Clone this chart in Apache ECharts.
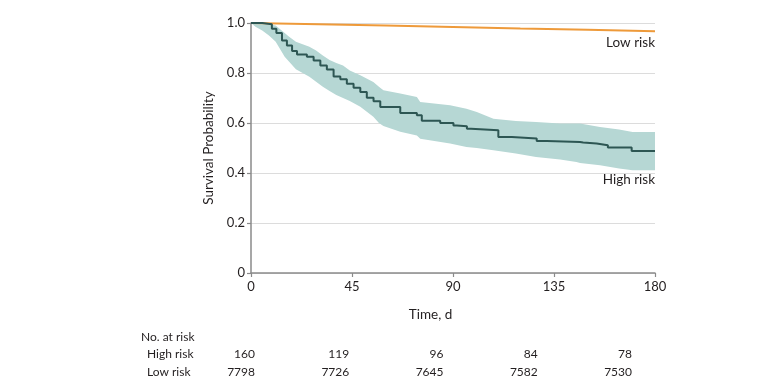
<!DOCTYPE html>
<html>
<head>
<meta charset="utf-8">
<script src="https://cdn.jsdelivr.net/npm/echarts@6/dist/echarts.min.js"></script>
<style>
html, body { margin: 0; padding: 0; background: #fff; }
#chart { width: 780px; height: 380px; }
</style>
</head>
<body>
<div id="chart"></div>
<script>
// Kaplan-Meier, high risk group (step points: day, survival)
const highT = [0, 5, 9.3, 11.3, 13.8, 16, 18.3, 20.5, 24.9, 27.9, 30.9, 33.8, 36.8, 39.8, 42.7, 45.7, 48.7, 51.6, 54.6, 57.6, 66.5, 73.9, 76.1, 84.3, 90.2, 91.7, 96.2, 98, 110.2, 116.2, 127.3, 131.8, 146.6, 148, 154, 159, 169.6, 180];
const highS = [1.0, 0.995, 0.977, 0.96, 0.93, 0.91, 0.888, 0.874, 0.865, 0.85, 0.83, 0.814, 0.786, 0.775, 0.757, 0.741, 0.724, 0.701, 0.687, 0.664, 0.64, 0.631, 0.609, 0.60, 0.59, 0.587, 0.577, 0.571, 0.544, 0.538, 0.528, 0.524, 0.522, 0.518, 0.511, 0.502, 0.488, 0.488];

// 95% CI band for the high risk group
const ciT  = [0, 2, 5, 8, 11, 13, 15, 17, 20, 23, 26, 29, 32, 35, 38, 41, 44, 48.7, 54.5, 57, 59, 66.5, 73.9, 75.4, 88.7, 96, 100.6, 108, 118, 127, 137.7, 145, 146.6, 155.5, 164, 170, 180];
const ciLo = [1.0, 0.985, 0.97, 0.95, 0.925, 0.895, 0.865, 0.845, 0.815, 0.80, 0.785, 0.765, 0.745, 0.728, 0.712, 0.70, 0.688, 0.665, 0.625, 0.60, 0.588, 0.565, 0.55, 0.537, 0.518, 0.504, 0.50, 0.491, 0.478, 0.464, 0.454, 0.444, 0.44, 0.431, 0.418, 0.411, 0.411];
const ciHi = [1.0, 1.0, 1.0, 0.995, 0.99, 0.975, 0.96, 0.945, 0.925, 0.915, 0.905, 0.89, 0.87, 0.852, 0.84, 0.83, 0.81, 0.791, 0.764, 0.745, 0.731, 0.718, 0.704, 0.684, 0.671, 0.657, 0.644, 0.617, 0.608, 0.604, 0.598, 0.598, 0.598, 0.584, 0.574, 0.564, 0.564];

// low risk group
const lowT = [0, 30, 60, 90, 120, 150, 180];
const lowS = [1.0, 0.995, 0.99, 0.984, 0.978, 0.973, 0.967];

// number at risk table
const riskDays = [0, 45, 90, 135, 180];
const riskHigh = [160, 119, 96, 84, 78];
const riskLow = [7798, 7726, 7645, 7582, 7530];

const FONT = 'Lato';
const TXT = '#231f20';

const pairs = (xs, ys) => xs.map((x, i) => [x, ys[i]]);

// CI band polygon: upper edge left->right, lower edge back
function bandItem(params, api) {
	const pts = [];
	for (let i = 0; i < ciT.length; i++) pts.push(api.coord([ciT[i], ciHi[i]]));
	for (let i = ciT.length - 1; i >= 0; i--) pts.push(api.coord([ciT[i], ciLo[i]]));
	return {
		type: 'polygon',
		shape: {points: pts},
		style: {fill: '#b6d7d4'},
	};
}

const chart = echarts.init(document.getElementById('chart'), null, {renderer: 'canvas'});

chart.setOption({
	animation: false,
	textStyle: {fontFamily: FONT, color: TXT},
	grid: {left: 251, right: 125, top: 23, bottom: 107},
	xAxis: {
		type: 'value',
		min: 0,
		max: 180,
		interval: 45,
		axisLine: {lineStyle: {color: '#8a8a8a', width: 1.5}},
		axisTick: {show: true, length: 4, lineStyle: {color: '#8a8a8a', width: 1.2}},
		axisLabel: {color: TXT, fontSize: 13, margin: 7, fontFamily: FONT},
		splitLine: {show: false},
	},
	yAxis: {
		type: 'value',
		min: 0,
		max: 1,
		interval: 0.2,
		name: 'Survival Probability',
		nameLocation: 'middle',
		nameGap: 30,
		nameTextStyle: {color: TXT, fontSize: 13.5, fontFamily: FONT},
		axisLine: {show: true, lineStyle: {color: '#8a8a8a', width: 1.5}},
		axisTick: {show: true, length: 4, lineStyle: {color: '#8a8a8a', width: 1.2}},
		axisLabel: {
			color: TXT, fontSize: 13, margin: 6, fontFamily: FONT,
			formatter: v => (v === 0 ? '0' : v.toFixed(1)),
		},
		splitLine: {show: true, lineStyle: {color: '#dcdcdc', width: 1}},
	},
	series: [
		{
			name: 'CI',
			type: 'custom',
			renderItem: bandItem,
			data: [[0, 1]],
			clip: true,
			z: 1,
		},
		{
			name: 'Low risk',
			type: 'line',
			symbol: 'none',
			lineStyle: {color: '#ee9a3a', width: 2},
			data: pairs(lowT, lowS),
			z: 3,
		},
		{
			name: 'High risk',
			type: 'line',
			step: 'end',
			symbol: 'none',
			lineStyle: {color: '#2d5653', width: 2},
			data: pairs(highT, highS),
			z: 3,
		},
	],
});

// annotations and the at-risk table
const px = (x, y) => chart.convertToPixel({gridIndex: 0}, [x, y]);
const txt = (x, y, text, align, size) => ({
	type: 'text',
	x: x, y: y,
	style: {
		text: text, fill: TXT, font: (size || 12) + 'px ' + FONT,
		align: align || 'left', verticalAlign: 'middle',
	},
});

const endLow = px(180, lowS[lowS.length - 1]);
const endHigh = px(180, ciLo[ciLo.length - 1]);
const graphics = [
	txt(endLow[0], endLow[1] + 11, 'Low risk', 'right', 13.5),
	txt(endHigh[0], endHigh[1] + 9, 'High risk', 'right', 13.5),
	txt(px(80, 0)[0], 315, 'Time, d', 'center', 13.5),
	txt(141, 337, 'No. at risk', 'left'),
	txt(147, 354, 'High risk', 'left'),
	txt(147, 372, 'Low risk', 'left'),
];
const colRight = 255, colStep = 94.25;
riskDays.forEach((d, i) => {
	graphics.push(txt(colRight + i * colStep, 354, String(riskHigh[i]), 'right'));
	graphics.push(txt(colRight + i * colStep, 372, String(riskLow[i]), 'right'));
});
chart.setOption({graphic: graphics});
</script>
</body>
</html>
